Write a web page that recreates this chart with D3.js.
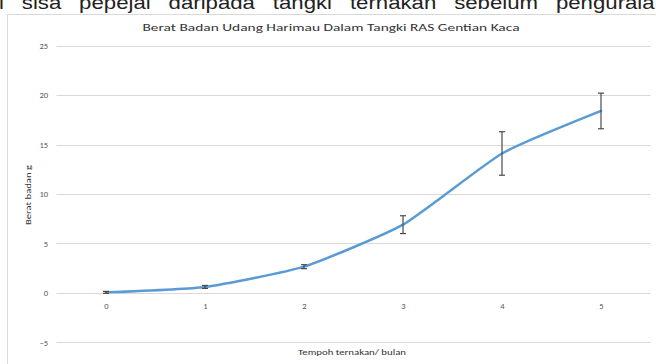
<!DOCTYPE html>
<html>
<head>
<meta charset="utf-8">
<script src="https://cdn.jsdelivr.net/npm/d3@7"></script>
<style>
  html, body { margin: 0; padding: 0; background: #fff; }
  svg { display: block; }
</style>
</head>
<body>
<svg id="chart" width="656" height="364"></svg>
<script>
// Growth of tiger prawns (months of culture vs. body weight, g)
const months = ["0", "1", "2", "3", "4", "5"];
const weights = [0.05, 0.6, 2.65, 6.9, 14.1, 18.4];
const errors = [0.1, 0.15, 0.2, 0.9, 2.2, 1.8];
const yTicks = [-5, 0, 5, 10, 15, 20, 25];

const chartTitle = "Berat Badan Udang Harimau Dalam Tangki RAS Gentian Kaca";
const xTitle = "Tempoh ternakan/ bulan";
const yTitle = "Berat badan g";
const pageText = "i sisa pepejal daripada tangki ternakan sebelum penguraian";

const svg = d3.select("#chart");
const labelFont = "Carlito, 'Open Sans', 'Liberation Sans', sans-serif";

// Surrounding justified document line, running off the top of the page view
svg.append("text")
  .attr("x", -1).attr("y", 8.5)
  .attr("font-family", "'Liberation Sans', Arial, sans-serif")
  .attr("font-size", 19)
  .attr("word-spacing", 10)
  .attr("textLength", 668)
  .attr("lengthAdjust", "spacingAndGlyphs")
  .attr("fill", "#222")
  .text(pageText);

// Chart frame
svg.append("path")
  .attr("d", "M7.5,364 V14.5 H656")
  .attr("fill", "none")
  .attr("stroke", "#d9d9d9")
  .attr("stroke-width", 1);

const x = d3.scalePoint().domain(months).range([56.5, 650.5]).padding(0.5);
const y = d3.scaleLinear().domain([-5, 25]).range([342.3, 45.7]);

// Horizontal gridlines
svg.append("g")
  .selectAll("line")
  .data(yTicks)
  .join("line")
  .attr("x1", 56.5).attr("x2", 650.5)
  .attr("y1", d => Math.round(y(d)) + 0.5)
  .attr("y2", d => Math.round(y(d)) + 0.5)
  .attr("stroke", "#d9d9d9")
  .attr("stroke-width", 1);

// Y axis labels
const yAxis = d3.axisLeft(y).tickValues(yTicks).tickSize(0).tickPadding(0);
svg.append("g")
  .attr("transform", "translate(48,0)")
  .call(yAxis)
  .call(g => g.select(".domain").remove())
  .call(g => g.selectAll("text")
    .attr("font-family", labelFont)
    .attr("font-size", 8.5)
    .attr("fill", "#595959"));

// X axis labels
const xAxis = d3.axisBottom(x).tickSize(0).tickPadding(0);
svg.append("g")
  .attr("transform", "translate(0,303)")
  .call(xAxis)
  .call(g => g.select(".domain").remove())
  .call(g => g.selectAll("text")
    .attr("font-family", labelFont)
    .attr("font-size", 8.5)
    .attr("fill", "#595959"));

// Title
svg.append("text")
  .attr("x", 331).attr("y", 31)
  .attr("text-anchor", "middle")
  .attr("font-family", labelFont)
  .attr("font-size", 10)
  .attr("textLength", 377)
  .attr("lengthAdjust", "spacingAndGlyphs")
  .attr("fill", "#333")
  .text(chartTitle);

// Axis titles
svg.append("text")
  .attr("x", 352).attr("y", 355)
  .attr("text-anchor", "middle")
  .attr("font-family", labelFont)
  .attr("font-size", 8.5)
  .attr("textLength", 108)
  .attr("lengthAdjust", "spacingAndGlyphs")
  .attr("fill", "#333")
  .text(xTitle);

svg.append("text")
  .attr("transform", "translate(31,195) rotate(-90)")
  .attr("text-anchor", "middle")
  .attr("font-family", labelFont)
  .attr("font-size", 8.5)
  .attr("textLength", 60)
  .attr("lengthAdjust", "spacingAndGlyphs")
  .attr("fill", "#333")
  .text(yTitle);

const points = months.map((m, i) => ({ m, v: weights[i], e: errors[i] }));

// Smoothed growth line
const line = d3.line()
  .x(d => x(d.m))
  .y(d => y(d.v))
  .curve(d3.curveCardinal.tension(0.5));

svg.append("path")
  .datum(points)
  .attr("d", line)
  .attr("fill", "none")
  .attr("stroke", "#5b9bd5")
  .attr("stroke-width", 2.5)
  .attr("stroke-linejoin", "round")
  .attr("stroke-linecap", "round");

// Error bars
const eb = svg.append("g")
  .attr("stroke", "#4a4a4a")
  .attr("stroke-width", 1.2)
  .selectAll("g")
  .data(points)
  .join("g");

eb.append("line")
  .attr("x1", d => x(d.m)).attr("x2", d => x(d.m))
  .attr("y1", d => y(d.v + d.e)).attr("y2", d => y(d.v - d.e));
eb.append("line")
  .attr("x1", d => x(d.m) - 3).attr("x2", d => x(d.m) + 3)
  .attr("y1", d => y(d.v + d.e)).attr("y2", d => y(d.v + d.e));
eb.append("line")
  .attr("x1", d => x(d.m) - 3).attr("x2", d => x(d.m) + 3)
  .attr("y1", d => y(d.v - d.e)).attr("y2", d => y(d.v - d.e));
</script>
</body>
</html>
